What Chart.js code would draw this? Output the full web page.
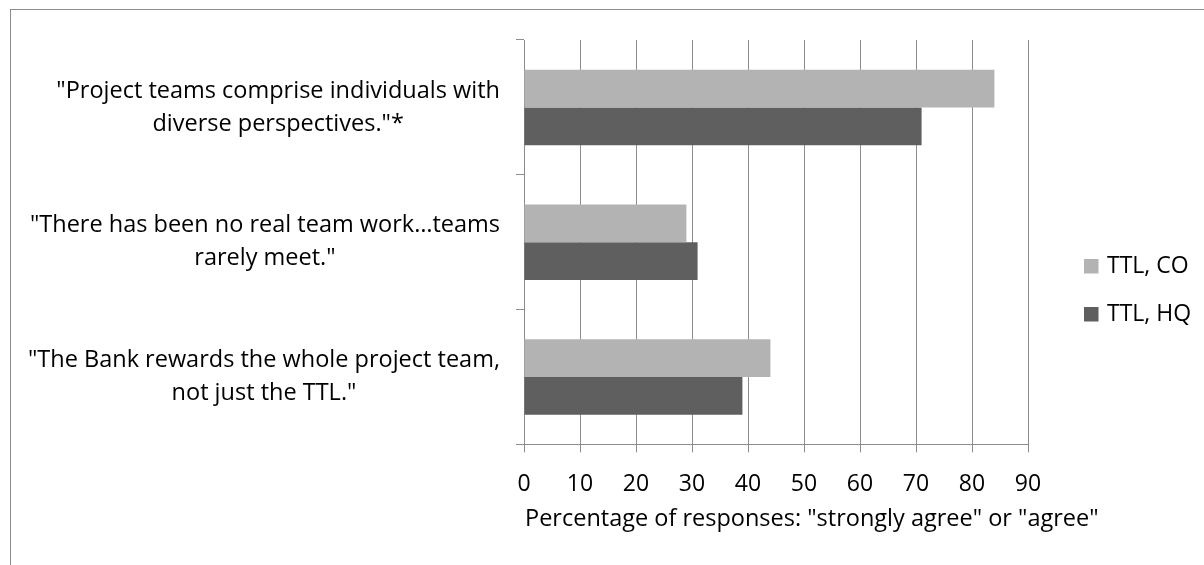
<!DOCTYPE html>
<html>
<head>
<meta charset="utf-8">
<script src="https://cdn.jsdelivr.net/npm/chart.js@4/dist/chart.umd.min.js"></script>
<style>
  html, body { margin: 0; padding: 0; background: #fff; overflow: hidden; }
  #frame {
    position: absolute; left: 10px; top: 9px; width: 1300px; height: 700px;
    border-left: 1px solid #8c8c8c; border-top: 1px solid #8c8c8c;
  }
  #wrap { position: absolute; left: 0; top: 0; width: 1204px; height: 565px; }
</style>
</head>
<body>
<div id="frame"></div>
<div id="wrap"><canvas id="chart"></canvas></div>
<script>
// Datos
const categories = [
  ['"Project teams comprise individuals with', 'diverse perspectives."*'],
  ['"There has been no real team work\u2026teams', 'rarely meet."'],
  ['"The Bank rewards the whole project team,', 'not just the TTL."']
];
const seriesNames = ['TTL, CO', 'TTL, HQ'];
const valuesCO = [84, 29, 44];
const valuesHQ = [71, 31, 39];
const xTicks = [0, 10, 20, 30, 40, 50, 60, 70, 80, 90];
const axisTitle = 'Percentage of responses: "strongly agree" or "agree"';

const colors = ['#b3b3b3', '#5f5f5f'];
const FONT = '"Open Sans", sans-serif';

// etiquetas del eje y (centradas por bloque) y titulo del eje x
const axisText = {
  id: 'axisText',
  afterDraw(chart) {
    const ctx = chart.ctx;
    const y = chart.scales.y;
    const area = chart.chartArea;
    ctx.save();
    ctx.font = '23.5px ' + FONT;
    ctx.fillStyle = '#000';
    ctx.textAlign = 'center';
    ctx.textBaseline = 'middle';
    const lh = 33;
    chart.data.labels.forEach((lines, i) => {
      const w = Math.max(...lines.map(l => ctx.measureText(l).width));
      const cx = y.right - 24 - w / 2;
      const cy = y.getPixelForTick(i);
      lines.forEach((l, k) => {
        ctx.fillText(l, cx, cy + (k - (lines.length - 1) / 2) * lh);
      });
    });
    // titulo del eje x, alineado al inicio del eje
    ctx.textAlign = 'left';
    ctx.textBaseline = 'alphabetic';
    ctx.fillText(axisTitle, area.left + 1, area.bottom + 82);
    ctx.restore();
  }
};

// leyenda a la derecha
const sideLegend = {
  id: 'sideLegend',
  afterDraw(chart) {
    const ctx = chart.ctx;
    const x0 = chart.chartArea.right + 56;
    const mid = chart.height / 2 + 7.5;
    ctx.save();
    ctx.font = '23px ' + FONT;
    ctx.textBaseline = 'middle';
    chart.data.datasets.forEach((ds, i) => {
      const cy = mid + (i - 0.5) * 48;
      ctx.fillStyle = ds.backgroundColor;
      ctx.fillRect(x0, cy - 7, 14.5, 14.5);
      ctx.fillStyle = '#000';
      ctx.fillText(ds.label, x0 + 23, cy);
    });
    ctx.restore();
  }
};

const ctx = document.getElementById('chart').getContext('2d');
new Chart(ctx, {
  type: 'bar',
  data: {
    labels: categories,
    datasets: [
      { label: seriesNames[0], data: valuesCO, backgroundColor: colors[0] },
      { label: seriesNames[1], data: valuesHQ, backgroundColor: colors[1] }
    ]
  },
  options: {
    indexAxis: 'y',
    responsive: true,
    maintainAspectRatio: false,
    animation: false,
    categoryPercentage: 0.56,
    barPercentage: 1,
    layout: { padding: { left: 0, top: 40, right: 176, bottom: 49 } },
    plugins: { legend: { display: false }, tooltip: { enabled: false } },
    scales: {
      x: {
        min: 0, max: 90,
        afterBuildTicks: s => { s.ticks = xTicks.map(v => ({ value: v })); },
        grid: { color: '#8c8c8c', lineWidth: 1, tickLength: 8, drawTicks: true },
        border: { color: '#8c8c8c', width: 1 },
        ticks: { color: '#000', padding: 18, font: { family: FONT, size: 23 }, maxRotation: 0 }
      },
      y: {
        afterFit: s => { s.width = 524; },
        grid: { drawOnChartArea: false, drawTicks: true, tickLength: 8, color: '#8c8c8c' },
        border: { color: '#8c8c8c', width: 1 },
        ticks: { display: false }
      }
    }
  },
  plugins: [axisText, sideLegend]
});
</script>
</body>
</html>
